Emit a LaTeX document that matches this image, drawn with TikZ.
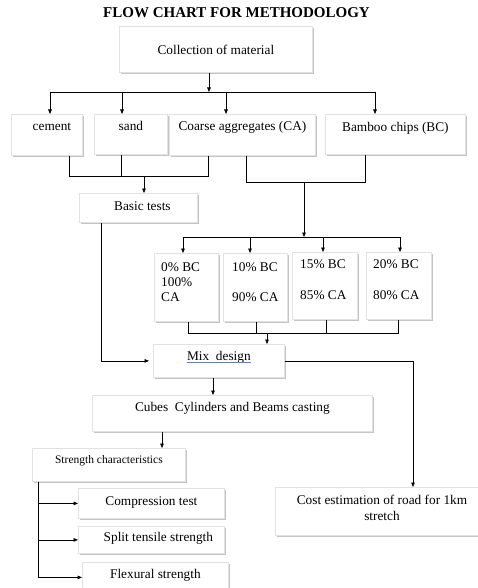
\documentclass[tikz,border=0pt]{standalone}
\usepackage{fontspec}
\setmainfont{Liberation Serif}
\usetikzlibrary{arrows.meta,shadows}
\definecolor{boxedge}{RGB}{226,226,226}
\definecolor{boxshade}{RGB}{196,196,196}
\definecolor{linkblue}{RGB}{90,130,205}
\tikzset{
  box/.style n args={3}{draw=boxedge, line width=0.8pt, fill=white, inner sep=0pt,
    minimum width=#1, text height=#2, text depth=#3,
    drop shadow={shadow xshift=1.4pt, shadow yshift=-1.4pt, fill=boxshade, opacity=1}},
  link/.style={line width=0.6pt},
  arr/.style={link, -{Triangle[length=4.5pt,width=3.6pt]}}
}

\begin{document}
\begin{tikzpicture}[x=1pt, y=-1pt, font=\fontsize{13.3}{15}\selectfont]
    \useasboundingbox (0,0) rectangle (478,588);
    % Title
    \node[font=\fontsize{15}{17}\selectfont\bfseries, anchor=base] (title) at (236.5,18) {FLOW CHART FOR METHODOLOGY};

    % Materials
    \node[box={193pt}{28.5pt}{17.5pt}, anchor=north west] (coll) at (119,26) {Collection of material};
    \node[box={71pt}{16.5pt}{24.5pt}, anchor=north west] (cement) at (11,114) {\hspace*{10pt}cement};
    \node[box={73pt}{16.5pt}{23.5pt}, anchor=north west] (sand) at (94,114) {sand};
    \node[box={146pt}{16.5pt}{24.5pt}, anchor=north west] (ca) at (169,114) {Coarse aggregates (CA)};
    \node[box={140pt}{17pt}{23pt}, anchor=north west] (bc) at (325,114) {Bamboo chips (BC)};
    \node[box={118pt}{17.5pt}{11.5pt}, anchor=north west] (basic) at (79,193) {\hspace*{8pt}Basic tests};

    % Replacement proportions
    \node[box={64pt}{68pt}{0pt}, anchor=north west] (p0) at (154,253) {};
    \node[box={64pt}{68pt}{0pt}, anchor=north west] (p10) at (223,253) {};
    \node[box={65pt}{67pt}{0pt}, anchor=north west] (p15) at (292,252) {};
    \node[box={65pt}{67pt}{0pt}, anchor=north west] (p20) at (366,252) {};
    \node[anchor=north west, inner sep=0pt, align=left] (p0txt) at (161,262) {0\% BC\\100\%\\CA};
    \node[anchor=north west, inner sep=0pt, align=left] (p10txt) at (232,262) {10\% BC\\[15pt]90\% CA};
    \node[anchor=north west, inner sep=0pt, align=left] (p15txt) at (300,259.5) {15\% BC\\[16pt]85\% CA};
    \node[anchor=north west, inner sep=0pt, align=left] (p20txt) at (373,259.5) {20\% BC\\[16pt]80\% CA};

    % Mix design and casting
    \node[box={131pt}{16.5pt}{16.5pt}, anchor=north west] (mix) at (153,344) {Mix\ \ design};
    \draw[linkblue, line width=0.9pt] ([xshift=-32pt,yshift=-2pt]mix.base) -- ([xshift=32pt,yshift=-2pt]mix.base);
    \node[box={280pt}{16.5pt}{19.5pt}, anchor=north west] (cubes) at (92,395) {Cubes\ \ Cylinders and Beams casting};
    \node[box={153pt}{15pt}{18pt}, anchor=north west, font=\fontsize{11.5}{13}\selectfont] (strength) at (32,448) {Strength characteristics};
    \node[box={146pt}{17.5pt}{12.5pt}, anchor=north west] (comp) at (78,488) {Compression test};
    \node[box={146pt}{15.5pt}{11.5pt}, anchor=north west] (split) at (78,526) {\hspace*{14pt}Split tensile strength};
    \node[box={146pt}{16.5pt}{13.5pt}, anchor=north west] (flex) at (82,562) {Flexural strength};
    \node[box={205pt}{48pt}{0pt}, anchor=north west] (cost) at (275,487) {};
    \node[anchor=north, inner sep=0pt, align=center, font=\fontsize{13.3}{16}\selectfont] (costtxt) at (382,495) {Cost estimation of road for 1km\\stretch};

    % Collection to materials
    \coordinate (bus1) at (209,92);
    \draw[arr] (coll.south -| bus1) -- (bus1);
    \draw[link] (bus1 -| 50,0) -- (bus1 -| 375,0);
    \foreach \n/\x in {cement/50, sand/122, ca/226, bc/375}
        \draw[arr] (bus1 -| \x,0) -- (\n.north -| \x,0);

    % Materials to basic tests
    \coordinate (bus2) at (144,176);
    \draw[link] (cement.south -| 69,0) -- (bus2 -| 69,0) -- (bus2 -| 208,0) -- (ca.south -| 208,0);
    \draw[link] (sand.south -| 121,0) -- (bus2 -| 121,0);
    \draw[arr] (bus2) -- (basic.north -| bus2);

    % CA and BC to proportions
    \coordinate (bus3) at (304,182);
    \coordinate (bus4) at (304,237);
    \draw[link] (ca.south -| 246,0) -- (bus3 -| 246,0) -- (bus3 -| 365,0) -- (bc.south -| 365,0);
    \draw[arr] (bus3) -- (bus4);
    \draw[link] (bus4 -| 183,0) -- (bus4 -| 400,0);
    \foreach \n/\x in {p0/183, p10/250, p15/323, p20/400}
        \draw[arr] (bus4 -| \x,0) -- (\n.north -| \x,0);

    % Proportions to mix design
    \coordinate (bus5) at (267,333);
    \draw[link] (p0.south -| 188,0) -- (bus5 -| 188,0) -- (bus5 -| 398,0) -- (p20.south -| 398,0);
    \foreach \n/\x in {p10/256, p15/326}
        \draw[link] (\n.south -| \x,0) -- (bus5 -| \x,0);
    \draw[arr] (bus5) -- (mix.north -| bus5);
    \draw[arr, shorten >=4pt] (basic.south -| 101,0) |- (mix.west);
    \draw[arr] (mix.east) -| (cost.north -| 413,0);
    \draw[arr] (mix.south -| 213,0) -- (cubes.north -| 213,0);
    \draw[arr] (cubes.south -| 162,0) -- (strength.north -| 162,0);

    % Strength tests
    \coordinate (trunk) at (38,481);
    \draw[link] (strength.south -| trunk) -- (trunk |- flex.west);
    \foreach \n in {comp, split, flex}
        \draw[arr] (trunk |- \n.west) -- (\n.west);
\end{tikzpicture}
\end{document}
